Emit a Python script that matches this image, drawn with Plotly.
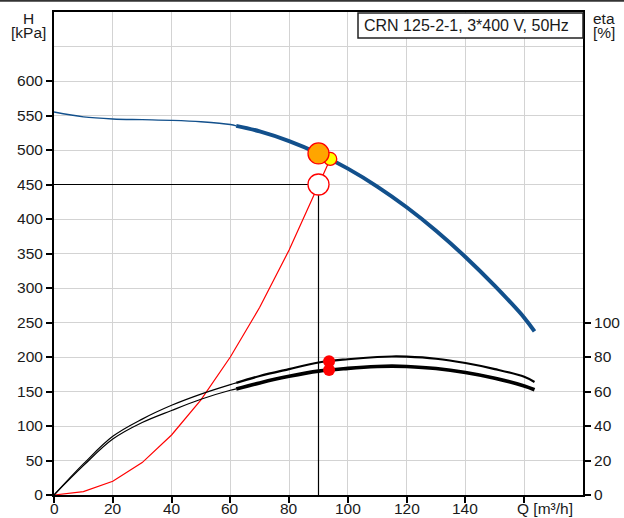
import plotly.graph_objects as go

# Pump head curve H(Q)
q_head = [0, 10, 20, 30, 40, 50, 60, 62, 70, 80, 90, 100, 110, 120, 130, 140, 150, 160, 163.5]
h_head = [555, 548, 545, 544, 543, 541, 537, 535, 527, 513, 495, 473, 447, 417, 383, 345, 303, 257, 237]
q_head_split = 62  # start of the recommended operating range (bold part)

# Efficiency curves eta(Q)
q_eta = [0, 10, 20, 30, 40, 50, 60, 62, 70, 80, 90, 100, 110, 115, 120, 130, 140, 150, 160, 163.5]
eta_upper = [0, 18, 34, 44, 52, 58.5, 64, 65, 69, 73, 76.8, 78.7, 80, 80.3, 80.2, 79, 76.5, 73, 68.5, 65.5]
eta_lower = [0, 17, 32.4, 42, 49, 55.5, 60.7, 61.5, 65, 68.8, 71.8, 73.4, 74.5, 74.7, 74.5, 73.3, 71, 67.7, 63.2, 61]

# System curve
q_sys = [0, 10, 20, 30, 40, 50, 60, 70, 80, 90, 94]
h_sys = [0, 5, 20, 47, 87, 138, 200, 272, 355, 450, 487]

# Duty point and operating points
duty_q, duty_h = 90, 450
pump_at_duty_q, pump_at_duty_h = 90, 495
op_q, op_h = 94, 487
eta_op_q = 93.6
eta_op_vals = [77.5, 72.5]

x_ticks = [0, 20, 40, 60, 80, 100, 120, 140, 160]
x_ticklabels = ["0", "20", "40", "60", "80", "100", "120", "140", ""]
x_title = "Q [m³/h]"
h_ticks = [0, 50, 100, 150, 200, 250, 300, 350, 400, 450, 500, 550, 600]
eta_ticks = [0, 20, 40, 60, 80, 100]

title_text = "CRN 125-2-1, 3*400 V, 50Hz"

FONT = "Liberation Sans, Arial, sans-serif"
TXT = "#1a1a1a"
BLUE = "#12508c"
W, H = 624, 518
ML, MR, MT, MB = 54, 41, 12, 23
PW, PH = W - ML - MR, H - MT - MB


def px_x(p):
    return (p - ML) / PW


def px_y(p):
    return (H - MB - p) / PH


def split(xs, ys, at, upper):
    pts = [(x, y) for x, y in zip(xs, ys) if (x >= at if upper else x <= at)]
    return [p[0] for p in pts], [p[1] for p in pts]


fig = go.Figure()

# efficiency curves (right axis)
for vals, wide in ((eta_upper, 2.2), (eta_lower, 3.6)):
    qa, ea = split(q_eta, vals, q_head_split, False)
    qb, eb = split(q_eta, vals, q_head_split, True)
    fig.add_trace(go.Scatter(x=qa, y=ea, yaxis="y2", mode="lines",
                             line=dict(color="#000000", width=1.2, shape="spline"),
                             hoverinfo="skip", showlegend=False))
    fig.add_trace(go.Scatter(x=qb, y=eb, yaxis="y2", mode="lines",
                             line=dict(color="#000000", width=wide, shape="spline"),
                             hoverinfo="skip", showlegend=False))

# head curve: thin outside, bold inside operating range
qa, ha = split(q_head, h_head, q_head_split, False)
qb, hb = split(q_head, h_head, q_head_split, True)
fig.add_trace(go.Scatter(x=qa, y=ha, mode="lines",
                         line=dict(color=BLUE, width=1.4, shape="spline"),
                         hoverinfo="skip", showlegend=False))
fig.add_trace(go.Scatter(x=qb, y=hb, mode="lines",
                         line=dict(color=BLUE, width=4, shape="spline"),
                         hoverinfo="skip", showlegend=False))

# system curve
fig.add_trace(go.Scatter(x=q_sys, y=h_sys, mode="lines",
                         line=dict(color="#ff0000", width=1.2),
                         hoverinfo="skip", showlegend=False))

# duty point guide lines
fig.add_trace(go.Scatter(x=[0, duty_q, duty_q], y=[duty_h, duty_h, 0], mode="lines",
                         line=dict(color="#000000", width=1.2),
                         hoverinfo="skip", showlegend=False))

# markers
fig.add_trace(go.Scatter(x=[duty_q], y=[duty_h], mode="markers",
                         marker=dict(size=21, color="#ffffff", line=dict(color="#ff0000", width=1.3)),
                         hoverinfo="skip", showlegend=False))
fig.add_trace(go.Scatter(x=[op_q], y=[op_h], mode="markers",
                         marker=dict(size=13, color="#ffff00", line=dict(color="#ff0000", width=1.3)),
                         hoverinfo="skip", showlegend=False))
fig.add_trace(go.Scatter(x=[pump_at_duty_q], y=[pump_at_duty_h], mode="markers",
                         marker=dict(size=21, color="#ffa500", line=dict(color="#ff0000", width=1.3)),
                         hoverinfo="skip", showlegend=False))
fig.add_trace(go.Scatter(x=[eta_op_q] * len(eta_op_vals), y=eta_op_vals, yaxis="y2", mode="markers",
                         marker=dict(size=12, color="#ff0000", line=dict(width=0)),
                         hoverinfo="skip", showlegend=False))

axis_common = dict(showline=True, linecolor="#000000", linewidth=2, ticks="outside",
                   ticklen=6, tickwidth=2, tickcolor="#000000", automargin=False,
                   tickfont=dict(family=FONT, size=15.5, color=TXT), zeroline=False)

label_font = dict(family=FONT, size=15.5, color=TXT)


def text_at(text, x, y, xref="paper", xanchor="center", font=label_font):
    return dict(text=text, xref=xref, yref="paper", x=x, y=y, xanchor=xanchor,
                yanchor="middle", showarrow=False, font=font)


# x tick labels sit close under the axis, set as text at the tick positions
x_label_annotations = [text_at(t, v, px_y(509), xref="x")
                       for v, t in zip(x_ticks, x_ticklabels) if t]

fig.update_layout(
    width=W, height=H,
    margin=dict(l=ML, r=MR, t=MT, b=MB, pad=0, autoexpand=False),
    paper_bgcolor="#ffffff", plot_bgcolor="#ffffff",
    xaxis=dict(range=[0, 180], tickvals=x_ticks, showticklabels=False,
               showgrid=True, gridcolor="#d3d3d3", gridwidth=1, mirror=True, **axis_common),
    yaxis=dict(range=[0, 700], tickvals=h_ticks,
               showgrid=True, gridcolor="#d3d3d3", gridwidth=1, **axis_common),
    yaxis2=dict(range=[0, 280], tickvals=eta_ticks, overlaying="y", side="right",
                showgrid=False, **axis_common),
    shapes=[
        dict(type="line", xref="x", yref="y", x0=0, x1=180, y0=650, y1=650,
             line=dict(color="#d3d3d3", width=1), layer="below"),
        dict(type="rect", xref="paper", yref="paper",
             x0=px_x(358), x1=1.0, y0=px_y(38), y1=px_y(13),
             fillcolor="#ffffff", line=dict(color="#222222", width=1.5)),
        dict(type="line", xref="paper", yref="paper", x0=px_x(0), x1=px_x(W),
             y0=px_y(0.8), y1=px_y(0.8), line=dict(color="#333333", width=2)),
    ],
    annotations=x_label_annotations + [
        text_at(title_text, px_x(362), px_y(25.5), xanchor="left",
                font=dict(family=FONT, size=16, color=TXT)),
        text_at("H", px_x(28), px_y(18)),
        text_at("[kPa]", px_x(28), px_y(33)),
        text_at("eta", px_x(604), px_y(18)),
        text_at("[%]", px_x(604), px_y(33)),
        text_at(x_title, px_x(545), px_y(509)),
    ],
)

fig.write_html("out.html")
